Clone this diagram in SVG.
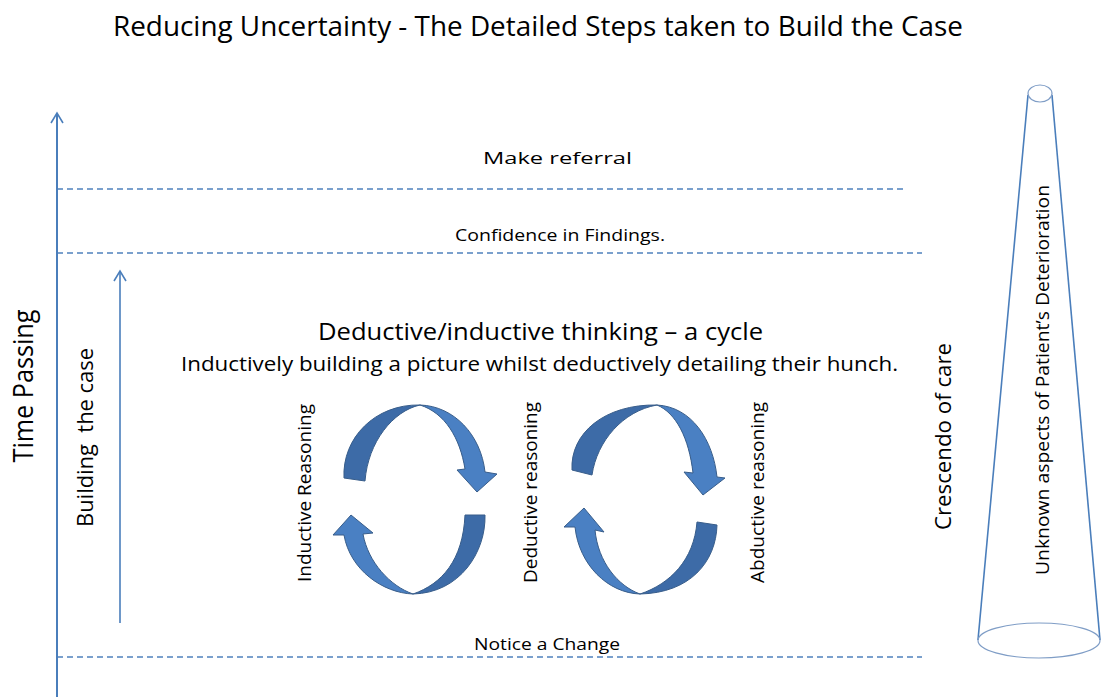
<svg xmlns="http://www.w3.org/2000/svg" width="1101" height="697" viewBox="0 0 1101 697">
<defs>
<style>
.t{font-family:"Open Sans","Liberation Sans",sans-serif;fill:#000;}
.dash{stroke:#4f81bd;stroke-width:1.4;stroke-dasharray:6,4;fill:none;}
.axis{stroke:#4a7ebb;stroke-width:2;fill:none;}
.dark{fill:#3d6ba7;stroke:#385d8a;stroke-width:1;}
.light{fill:#4a80c3;stroke:#385d8a;stroke-width:1;}
.cone{stroke:#4a7ebb;stroke-width:1.6;fill:none;}
.rim{stroke:#7f9dc6;stroke-width:1.2;fill:none;}
</style>
<marker id="open" markerUnits="userSpaceOnUse" markerWidth="14" markerHeight="16" viewBox="-12 -8 14 16" refX="0" refY="0" orient="auto">
<path d="M-10,-6 L0,0 L-10,6" fill="none" stroke="#4a7ebb" stroke-width="1.6"/>
</marker>
</defs>
<rect width="1101" height="697" fill="#fff"/>

<g id="title"><text class="t" x="538" y="36" font-size="27" text-anchor="middle" textLength="850" lengthAdjust="spacingAndGlyphs">Reducing Uncertainty - The Detailed Steps taken to Build the Case</text></g>

<g id="guides">
<line class="dash" x1="57" y1="189" x2="905" y2="189"/>
<line class="dash" x1="57" y1="253" x2="922" y2="253"/>
<line class="dash" x1="57" y1="657" x2="922" y2="657"/>
</g>

<g id="connectors">
<line class="axis" x1="57" y1="697" x2="57" y2="113" marker-end="url(#open)"/>
<line class="axis" x1="120" y1="623" x2="120" y2="271" marker-end="url(#open)" style="stroke-width:1.6"/>
</g>

<g id="time-passing"><text class="t" transform="translate(33,386) rotate(-90)" font-size="28" text-anchor="middle" textLength="153" lengthAdjust="spacingAndGlyphs">Time Passing</text></g>
<g id="building-case"><text class="t" transform="translate(93,437.5) rotate(-90)" font-size="21" text-anchor="middle" textLength="179" lengthAdjust="spacingAndGlyphs" xml:space="preserve" style="white-space:pre">Building  the case</text></g>

<g id="make-referral"><text class="t" x="557.5" y="164" font-size="17" text-anchor="middle" textLength="149" lengthAdjust="spacingAndGlyphs">Make referral</text></g>
<g id="confidence"><text class="t" x="560" y="241" font-size="17" text-anchor="middle" textLength="210" lengthAdjust="spacingAndGlyphs">Confidence in Findings.</text></g>
<g id="cycle-heading">
<text class="t" x="540.5" y="340" font-size="24" text-anchor="middle" textLength="445" lengthAdjust="spacingAndGlyphs">Deductive/inductive thinking – a cycle</text>
<text class="t" x="539.5" y="371" font-size="20" text-anchor="middle" textLength="717" lengthAdjust="spacingAndGlyphs">Inductively building a picture whilst deductively detailing their hunch.</text>
</g>
<g id="notice-change"><text class="t" x="547" y="650" font-size="17" text-anchor="middle" textLength="146" lengthAdjust="spacingAndGlyphs">Notice a Change</text></g>

<g id="inductive-label"><text class="t" transform="translate(311,493) rotate(-90)" font-size="17.5" text-anchor="middle" textLength="178" lengthAdjust="spacingAndGlyphs">Inductive Reasoning</text></g>
<g id="deductive-label"><text class="t" transform="translate(537,492.5) rotate(-90)" font-size="17.5" text-anchor="middle" textLength="181" lengthAdjust="spacingAndGlyphs">Deductive reasoning</text></g>
<g id="abductive-label"><text class="t" transform="translate(764,492.5) rotate(-90)" font-size="17.5" text-anchor="middle" textLength="181" lengthAdjust="spacingAndGlyphs">Abductive reasoning</text></g>

<g id="cycle-left">
<path class="dark" d="M344,478 C342,438 375,404 420,405 C393,411 368,442 365,481 Z"/>
<path class="light" d="M420,405 C454,406 481,435 485,472 L497,474 L477,492 L457,470 L465,469 C460,438 445,413 420,405 Z"/>
<path class="dark" d="M465,515 L485,515 C486,552 460,593 413,594 C442,584 463,560 465,515 Z"/>
<path class="light" d="M413,594 C383,593 350,570 344,535 L333,535 L351,515 L373,533 L363,534 C368,562 390,586 413,594 Z"/>
</g>

<g id="cycle-right">
<path class="dark" d="M572,470 C570,433 605,404 657,405 C623,411 597,441 592,475 Z"/>
<path class="light" d="M657,405 C692,407 713,440 717,477 L725,478 L703,495 L684,472 L693,473 C689,438 676,413 657,405 Z"/>
<path class="dark" d="M697,522 L717,525 C716,562 690,593 640,594 C670,584 694,560 697,522 Z"/>
<path class="light" d="M640,594 C608,593 579,565 575,527 L564,527 L584,508 L604,532 L595,530 C598,562 618,586 640,594 Z"/>
</g>

<g id="crescendo"><text class="t" transform="translate(951,436.5) rotate(-90)" font-size="21" text-anchor="middle" textLength="187" lengthAdjust="spacingAndGlyphs">Crescendo of care</text></g>

<g id="cone">
<line class="cone" x1="1028" y1="95" x2="978" y2="640"/>
<line class="cone" x1="1052" y1="95" x2="1100" y2="640"/>
<ellipse class="rim" cx="1040" cy="93.5" rx="12" ry="8.5"/>
<ellipse class="rim" cx="1039" cy="640.5" rx="61" ry="17.5"/>
<text class="t" transform="translate(1049,380) rotate(-90)" font-size="18" text-anchor="middle" textLength="390" lengthAdjust="spacingAndGlyphs">Unknown aspects of Patient’s Deterioration</text>
</g>
</svg>
